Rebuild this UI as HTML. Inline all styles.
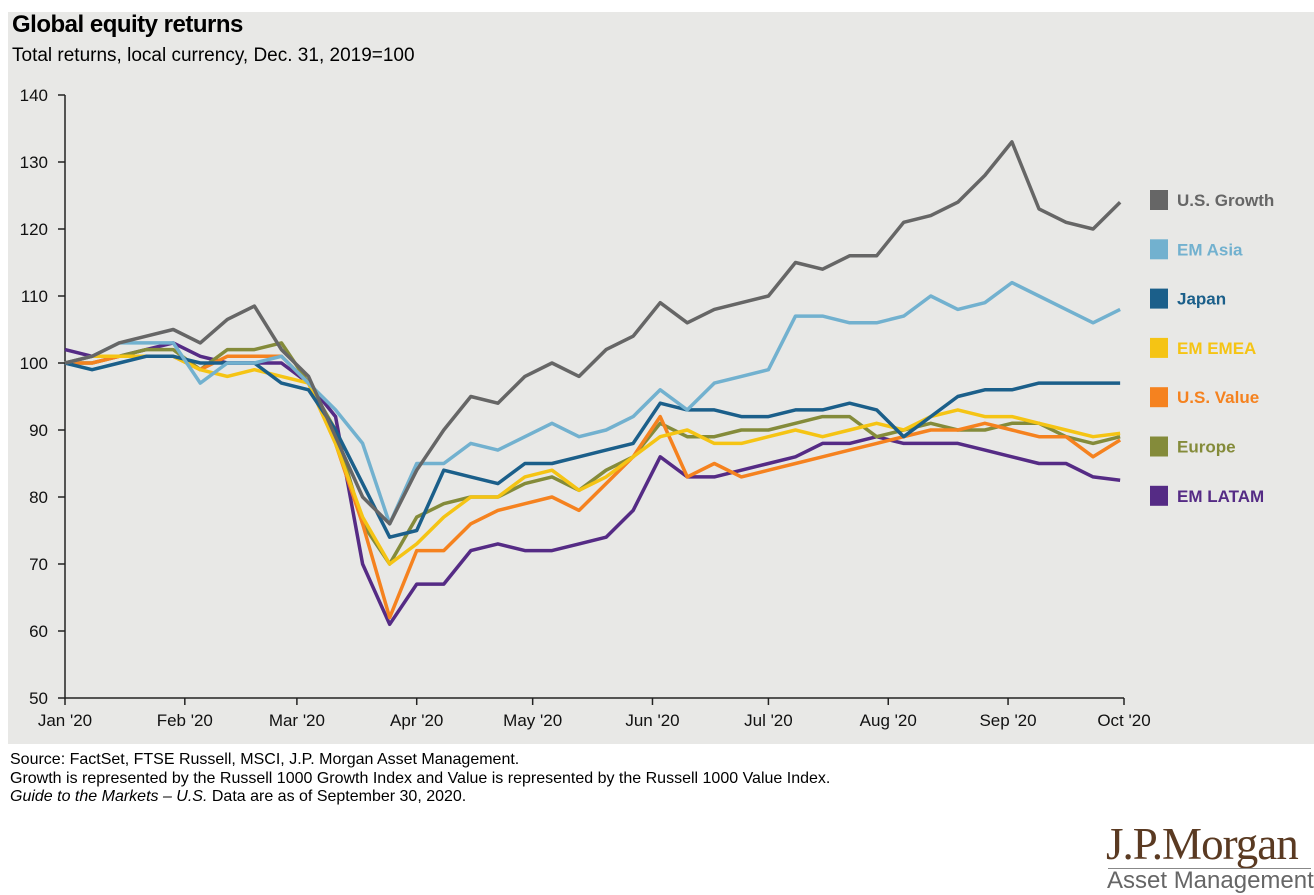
<!DOCTYPE html>
<html><head><meta charset="utf-8"><style>
body{margin:0;width:1314px;height:895px;background:#fff;font-family:"Liberation Sans",sans-serif;position:relative;overflow:hidden}
#bg{position:absolute;left:8px;top:12px;width:1306px;height:732px;background:#e8e8e6}
.t{position:absolute;white-space:nowrap}
</style></head><body>
<div id="bg"></div>
<div class="t" style="left:12px;top:11px;font-size:24px;font-weight:bold;color:#000;letter-spacing:-0.5px">Global equity returns</div>
<div class="t" style="left:12px;top:45px;font-size:19px;color:#000">Total returns, local currency, Dec. 31, 2019=100</div>
<svg id="chart" width="1314" height="895" style="position:absolute;left:0;top:0"></svg>
<div class="t" style="left:10px;top:751px;font-size:16px">Source: FactSet, FTSE Russell, MSCI, J.P. Morgan Asset Management.</div>
<div class="t" style="left:10px;top:770px;font-size:16px">Growth is represented by the Russell 1000 Growth Index and Value is represented by the Russell 1000 Value Index.</div>
<div class="t" style="left:10px;top:788px;font-size:16px"><i>Guide to the Markets – U.S.</i> Data are as of September 30, 2020.</div>
<div class="t" style="left:1106px;top:818px;font-family:'Liberation Serif',serif;font-size:45px;color:#5a3a22;letter-spacing:-1px">J.P.Morgan</div>
<div style="position:absolute;left:1108px;top:868px;width:203px;height:1px;background:#888"></div>
<div class="t" style="left:1107px;top:867px;font-size:24px;color:#666">Asset Management</div>
<script>
const days=[0,7,14,21,28,35,42,49,56,63,70,77,84,91,98,105,112,119,126,133,140,147,154,161,168,175,182,189,196,203,210,217,224,231,238,245,252,259,266,273];
const usGrowth=[100,101,103,104,105,103,106.5,108.5,102,98,89,80,76,84,90,95,94,98,100,98,102,104,109,106,108,109,110,115,114,116,116,121,122,124,128,133,123,121,120,124];
const emAsia=[100,101,103,103,103,97,100,100,101,97,93,88,76,85,85,88,87,89,91,89,90,92,96,93,97,98,99,107,107,106,106,107,110,108,109,112,110,108,106,108];
const japan=[100,99,100,101,101,100,100,100,97,96,90,82,74,75,84,83,82,85,85,86,87,88,94,93,93,92,92,93,93,94,93,89,92,95,96,96,97,97,97,97];
const emEmea=[100,101,101,101,101,99,98,99,98,97,88,77,70,73,77,80,80,83,84,81,83,86,89,90,88,88,89,90,89,90,91,90,92,93,92,92,91,90,89,89.5];
const usValue=[100,100,101,101,101,99,101,101,101,97,88,76,62,72,72,76,78,79,80,78,82,86,92,83,85,83,84,85,86,87,88,89,90,90,91,90,89,89,86,88.5];
const europe=[100,100,101,102,102,99,102,102,103,97,90,76,70,77,79,80,80,82,83,81,84,86,91,89,89,90,90,91,92,92,89,90,91,90,90,91,91,89,88,89];
const emLatam=[102,101,101,102,103,101,100,100,100,97,92,70,61,67,67,72,73,72,72,73,74,78,86,83,83,84,85,86,88,88,89,88,88,88,87,86,85,85,83,82.5];
const yTicks=[50,60,70,80,90,100,110,120,130,140];
const monthLabels=["Jan '20","Feb '20","Mar '20","Apr '20","May '20","Jun '20","Jul '20","Aug '20","Sep '20","Oct '20"];
const monthDays=[0,31,60,91,121,152,182,213,244,274];
const seriesNames=["U.S. Growth","EM Asia","Japan","EM EMEA","U.S. Value","Europe","EM LATAM"];
const seriesColors=["#666666","#72b1cf","#1b5f8a","#f5c414","#f5821f","#848b3a","#552b85"];
const seriesData=[usGrowth,emAsia,japan,emEmea,usValue,europe,emLatam];
const x=d=>65+d/274*1059;
const y=v=>698-(v-50)/90*603;
const svg=document.getElementById('chart');const NS='http://www.w3.org/2000/svg';
function mk(t,a){const e=document.createElementNS(NS,t);for(const k in a)e.setAttribute(k,a[k]);svg.appendChild(e);return e;}
let ax=mk('path',{d:`M65 ${y(140)} V698 H1124`,stroke:'#222','stroke-width':1.5,fill:'none'});


yTicks.forEach(v=>{
 const tk=mk('line',{x1:58,x2:65,y1:y(v),y2:y(v),stroke:'#222','stroke-width':1.5});
 
 
 const tx=mk('text',{x:48,y:y(v)+6,'text-anchor':'end','font-size':17,fill:'#111','font-family':'Liberation Sans'});
 tx.textContent=v;
 
 
});
monthDays.forEach((d,i)=>{
 const tk=mk('line',{x1:x(d),x2:x(d),y1:698,y2:705,stroke:'#222','stroke-width':1.5});
 
 
 const tx=mk('text',{x:x(d),y:726,'text-anchor':'middle','font-size':17,fill:'#111','font-family':'Liberation Sans'});
 tx.textContent=monthLabels[i];
 
 
});
for(let s=seriesData.length-1;s>=0;s--){
 const p=mk('polyline',{points:seriesData[s].map((v,i)=>x(days[i])+','+y(v)).join(' '),fill:'none',stroke:seriesColors[s],'stroke-width':3.5,'stroke-linejoin':'round'});
 
 
}
seriesNames.forEach((n,i)=>{
 const cy=200+i*49.3;
 const r=mk('rect',{x:1150,y:cy-10,width:18,height:20,fill:seriesColors[i]});
 
 
 const t=mk('text',{x:1177,y:cy+6,'font-size':17,'font-weight':'bold',fill:seriesColors[i],'font-family':'Liberation Sans'});
 t.textContent=n;
 
 
});
</script>
</body></html>
